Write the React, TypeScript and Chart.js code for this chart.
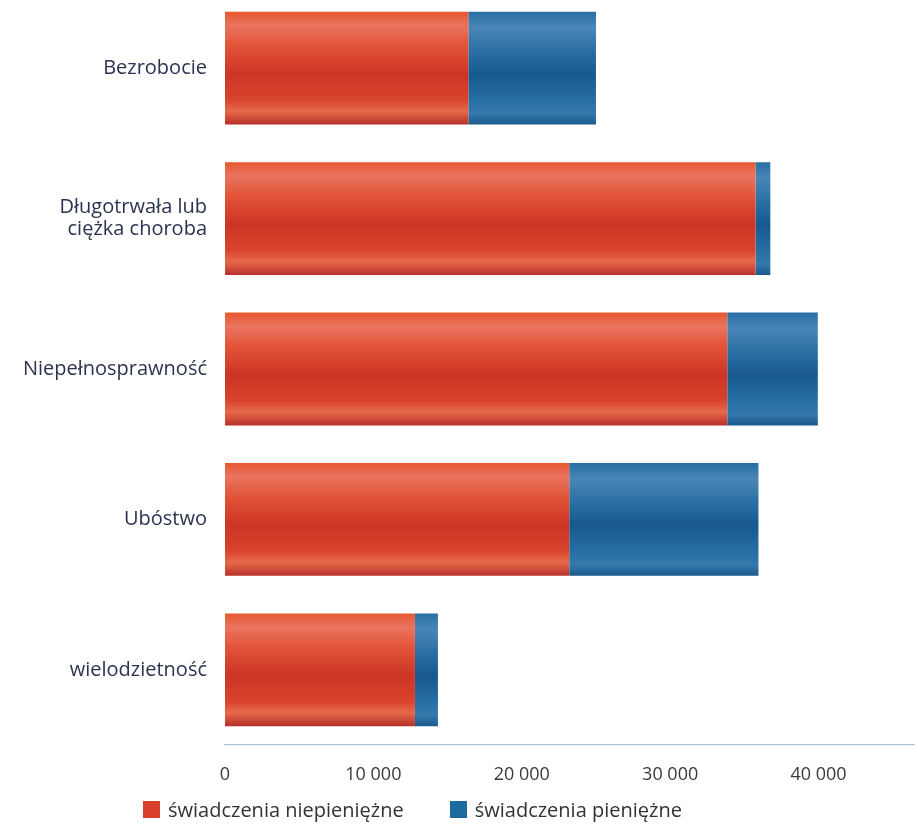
import React, { useEffect, useRef } from "react";
import { Chart, registerables } from "chart.js";

Chart.register(...registerables);

const categories: (string | string[])[] = [
  "Bezrobocie",
  ["Długotrwała lub", "ciężka choroba"],
  "Niepełnosprawność",
  "Ubóstwo",
  "wielodzietność",
];
const nonCash = [16400, 35750, 33850, 23200, 12800];
const cash = [8600, 1000, 6100, 12750, 1550];
const seriesLabels = ["świadczenia niepieniężne", "świadczenia pieniężne"];
const seriesColors = ["#d9402a", "#1f6a9c"];
const xTicks = [0, 10000, 20000, 30000, 40000];

const redStops: [number, string][] = [
  [0, "#e4582e"],
  [0.12, "#ea7460"],
  [0.3, "#e25438"],
  [0.55, "#cd3426"],
  [0.78, "#d8442c"],
  [0.88, "#e66a4a"],
  [1, "#b8302a"],
];
const blueStops: [number, string][] = [
  [0, "#266ea3"],
  [0.14, "#4a86b6"],
  [0.35, "#2a6fa4"],
  [0.55, "#17598e"],
  [0.8, "#2870a5"],
  [0.9, "#3579ad"],
  [1, "#1a5a8c"],
];

const BAR_FRAC = 0.75;

function makeGradient(stops: [number, string][], flat: string) {
  return (ctx: any) => {
    const chart = ctx.chart;
    const y = chart.scales?.y;
    if (!y || ctx.dataIndex === undefined || !chart.ctx) return flat;
    const n = categories.length;
    const step = (y.bottom - y.top) / n;
    const c = y.getPixelForValue(ctx.dataIndex);
    const h = step * BAR_FRAC;
    if (!isFinite(c) || !isFinite(h) || h <= 0) return flat;
    const g = chart.ctx.createLinearGradient(0, c - h / 2, 0, c + h / 2);
    stops.forEach(([o, col]) => g.addColorStop(o, col));
    return g;
  };
}

export default function App() {
  const ref = useRef<HTMLCanvasElement | null>(null);
  useEffect(() => {
    if (!ref.current) return;
    const chart = new Chart(ref.current, {
      type: "bar",
      data: {
        labels: categories,
        datasets: [
          {
            label: seriesLabels[0],
            data: nonCash,
            backgroundColor: makeGradient(redStops, seriesColors[0]),
            borderWidth: 0,
            categoryPercentage: 1,
            barPercentage: BAR_FRAC,
          },
          {
            label: seriesLabels[1],
            data: cash,
            backgroundColor: makeGradient(blueStops, seriesColors[1]),
            borderWidth: 0,
            categoryPercentage: 1,
            barPercentage: BAR_FRAC,
          },
        ],
      },
      options: {
        indexAxis: "y",
        animation: false,
        responsive: false,
        maintainAspectRatio: false,
        layout: { padding: { top: 0, right: 0, left: 0, bottom: 40 } },
        scales: {
          x: {
            stacked: true,
            min: 0,
            max: 46500,
            afterBuildTicks: (axis: any) => {
              axis.ticks = xTicks.map((v) => ({ value: v }));
            },
            afterFit: (s: any) => {
              s.height = 40;
              s.paddingTop = 0;
              s.paddingBottom = 0;
            },
            grid: { display: false, drawTicks: false },
            border: { display: true, color: "#a9c3da", width: 1.2 },
            ticks: {
              padding: 19,
              color: "#3a3a3a",
              font: { family: "Open Sans", size: 18 },
              callback: (v: any) =>
                Number(v).toLocaleString("en-US").replace(/,/g, " "),
            },
          },
          y: {
            stacked: true,
            afterFit: (s: any) => {
              s.width = 225;
              s.paddingTop = 0;
              s.paddingBottom = 0;
            },
            grid: { display: false, drawTicks: false },
            border: { display: false },
            ticks: {
              padding: 18,
              color: "#2b3350",
              font: { family: "Open Sans", size: 20, lineHeight: 1.1 },
            },
          },
        },
        plugins: {
          legend: { display: false },
          tooltip: { enabled: false },
        },
      },
    });
    return () => chart.destroy();
  }, []);
  return (
    <div style={{ position: "absolute", left: 0, top: 0, width: 915, height: 825, background: "#fff", overflow: "hidden" }}>
      <canvas
        ref={ref}
        width={915}
        height={832}
        style={{ position: "absolute", left: 0, top: -7, width: 915, height: 832 }}
      />
      <div
        style={{
          position: "absolute",
          left: 143,
          top: 796,
          display: "flex",
          alignItems: "center",
          fontFamily: "'Open Sans', sans-serif",
          fontSize: 20,
          color: "#333333",
          whiteSpace: "nowrap",
        }}
      >
        {seriesLabels.map((t, i) => (
          <div key={t} style={{ display: "flex", alignItems: "center", marginRight: i === 0 ? 46 : 0 }}>
            <span style={{ display: "inline-block", width: 17, height: 17, background: seriesColors[i], marginRight: 8 }} />
            <span>{t}</span>
          </div>
        ))}
      </div>
    </div>
  );
}
